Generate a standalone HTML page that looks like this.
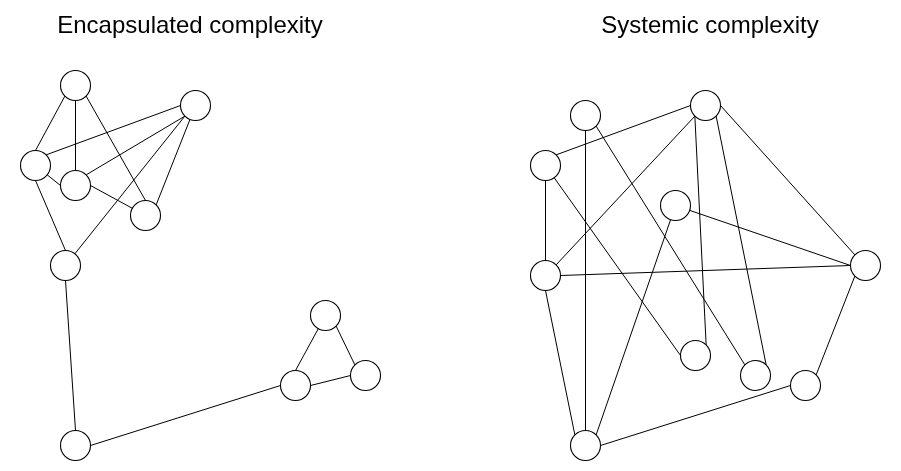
<!DOCTYPE html>
<html><head><meta charset="utf-8"><style>
html,body{margin:0;padding:0;background:#fff;width:901px;height:471px;overflow:hidden}
svg{position:absolute;left:0;top:0}
text{font-family:"Liberation Sans",sans-serif;font-size:24px;fill:#000}
.t{will-change:transform}
</style></head><body>
<svg width="901" height="471" viewBox="0 0 901 471">
<g stroke="#000" stroke-width="1.1" fill="#fff">
<path d="M 60.5 85.5 C 60.5 77.22 67.22 70.5 75.5 70.5 C 83.78 70.5 90.5 77.22 90.5 85.5 C 90.5 93.78 83.78 100.5 75.5 100.5 C 67.22 100.5 60.5 93.78 60.5 85.5 Z"/>
<path d="M 180.5 105.5 C 180.5 97.22 187.22 90.5 195.5 90.5 C 203.78 90.5 210.5 97.22 210.5 105.5 C 210.5 113.78 203.78 120.5 195.5 120.5 C 187.22 120.5 180.5 113.78 180.5 105.5 Z"/>
<path d="M 20.5 165.5 C 20.5 157.22 27.22 150.5 35.5 150.5 C 43.78 150.5 50.5 157.22 50.5 165.5 C 50.5 173.78 43.78 180.5 35.5 180.5 C 27.22 180.5 20.5 173.78 20.5 165.5 Z"/>
<path d="M 60.5 185.5 C 60.5 177.22 67.22 170.5 75.5 170.5 C 83.78 170.5 90.5 177.22 90.5 185.5 C 90.5 193.78 83.78 200.5 75.5 200.5 C 67.22 200.5 60.5 193.78 60.5 185.5 Z"/>
<path d="M 130.5 215.5 C 130.5 207.22 137.22 200.5 145.5 200.5 C 153.78 200.5 160.5 207.22 160.5 215.5 C 160.5 223.78 153.78 230.5 145.5 230.5 C 137.22 230.5 130.5 223.78 130.5 215.5 Z"/>
<path d="M 50.5 265.5 C 50.5 257.22 57.22 250.5 65.5 250.5 C 73.78 250.5 80.5 257.22 80.5 265.5 C 80.5 273.78 73.78 280.5 65.5 280.5 C 57.22 280.5 50.5 273.78 50.5 265.5 Z"/>
<path d="M 60.5 445.5 C 60.5 437.22 67.22 430.5 75.5 430.5 C 83.78 430.5 90.5 437.22 90.5 445.5 C 90.5 453.78 83.78 460.5 75.5 460.5 C 67.22 460.5 60.5 453.78 60.5 445.5 Z"/>
<path d="M 280.5 385.5 C 280.5 377.22 287.22 370.5 295.5 370.5 C 303.78 370.5 310.5 377.22 310.5 385.5 C 310.5 393.78 303.78 400.5 295.5 400.5 C 287.22 400.5 280.5 393.78 280.5 385.5 Z"/>
<path d="M 310.5 315.5 C 310.5 307.22 317.22 300.5 325.5 300.5 C 333.78 300.5 340.5 307.22 340.5 315.5 C 340.5 323.78 333.78 330.5 325.5 330.5 C 317.22 330.5 310.5 323.78 310.5 315.5 Z"/>
<path d="M 350.5 375.5 C 350.5 367.22 357.22 360.5 365.5 360.5 C 373.78 360.5 380.5 367.22 380.5 375.5 C 380.5 383.78 373.78 390.5 365.5 390.5 C 357.22 390.5 350.5 383.78 350.5 375.5 Z"/>
<path d="M 570.5 115.5 C 570.5 107.22 577.22 100.5 585.5 100.5 C 593.78 100.5 600.5 107.22 600.5 115.5 C 600.5 123.78 593.78 130.5 585.5 130.5 C 577.22 130.5 570.5 123.78 570.5 115.5 Z"/>
<path d="M 690.5 105.5 C 690.5 97.22 697.22 90.5 705.5 90.5 C 713.78 90.5 720.5 97.22 720.5 105.5 C 720.5 113.78 713.78 120.5 705.5 120.5 C 697.22 120.5 690.5 113.78 690.5 105.5 Z"/>
<path d="M 530.5 165.5 C 530.5 157.22 537.22 150.5 545.5 150.5 C 553.78 150.5 560.5 157.22 560.5 165.5 C 560.5 173.78 553.78 180.5 545.5 180.5 C 537.22 180.5 530.5 173.78 530.5 165.5 Z"/>
<path d="M 660.5 205.5 C 660.5 197.22 667.22 190.5 675.5 190.5 C 683.78 190.5 690.5 197.22 690.5 205.5 C 690.5 213.78 683.78 220.5 675.5 220.5 C 667.22 220.5 660.5 213.78 660.5 205.5 Z"/>
<path d="M 530.5 275.5 C 530.5 267.22 537.22 260.5 545.5 260.5 C 553.78 260.5 560.5 267.22 560.5 275.5 C 560.5 283.78 553.78 290.5 545.5 290.5 C 537.22 290.5 530.5 283.78 530.5 275.5 Z"/>
<path d="M 850.5 265.5 C 850.5 257.22 857.22 250.5 865.5 250.5 C 873.78 250.5 880.5 257.22 880.5 265.5 C 880.5 273.78 873.78 280.5 865.5 280.5 C 857.22 280.5 850.5 273.78 850.5 265.5 Z"/>
<path d="M 680.5 355.5 C 680.5 347.22 687.22 340.5 695.5 340.5 C 703.78 340.5 710.5 347.22 710.5 355.5 C 710.5 363.78 703.78 370.5 695.5 370.5 C 687.22 370.5 680.5 363.78 680.5 355.5 Z"/>
<path d="M 740.5 375.5 C 740.5 367.22 747.22 360.5 755.5 360.5 C 763.78 360.5 770.5 367.22 770.5 375.5 C 770.5 383.78 763.78 390.5 755.5 390.5 C 747.22 390.5 740.5 383.78 740.5 375.5 Z"/>
<path d="M 790.5 385.5 C 790.5 377.22 797.22 370.5 805.5 370.5 C 813.78 370.5 820.5 377.22 820.5 385.5 C 820.5 393.78 813.78 400.5 805.5 400.5 C 797.22 400.5 790.5 393.78 790.5 385.5 Z"/>
<path d="M 570.5 445.5 C 570.5 437.22 577.22 430.5 585.5 430.5 C 593.78 430.5 600.5 437.22 600.5 445.5 C 600.5 453.78 593.78 460.5 585.5 460.5 C 577.22 460.5 570.5 453.78 570.5 445.5 Z"/>
</g>
<g stroke="#000" stroke-width="1" fill="none">
<path d="M 64.85 96.15 L 35.50 150.50"/>
<path d="M 75.50 100.50 L 75.50 170.50"/>
<path d="M 86.15 96.15 L 145.50 200.50"/>
<path d="M 46.15 154.85 L 180.50 105.50"/>
<path d="M 47.21 174.87 L 60.50 185.50"/>
<path d="M 86.15 174.85 L 184.85 116.15"/>
<path d="M 90.50 185.50 L 132.33 208.32"/>
<path d="M 189.98 119.45 L 156.15 204.85"/>
<path d="M 184.85 116.15 L 74.86 253.78"/>
<path d="M 35.50 180.50 L 65.50 250.50"/>
<path d="M 65.50 280.50 L 75.50 430.50"/>
<path d="M 90.50 445.50 L 280.50 385.50"/>
<path d="M 295.50 370.50 L 318.32 328.67"/>
<path d="M 336.15 326.15 L 354.85 364.85"/>
<path d="M 310.50 385.50 L 350.50 375.50"/>
<path d="M 556.15 154.85 L 690.50 105.50"/>
<path d="M 545.50 180.50 L 545.50 260.50"/>
<path d="M 585.50 130.50 L 585.50 430.50"/>
<path d="M 596.15 126.15 L 744.85 364.85"/>
<path d="M 554.19 177.73 L 680.50 355.50"/>
<path d="M 694.85 116.15 L 556.15 264.85"/>
<path d="M 694.85 116.15 L 706.15 344.85"/>
<path d="M 716.15 116.15 L 766.15 364.85"/>
<path d="M 720.50 105.50 L 854.85 254.85"/>
<path d="M 689.69 210.36 L 850.50 265.50"/>
<path d="M 670.60 219.68 L 596.15 434.85"/>
<path d="M 560.50 275.50 L 850.50 265.50"/>
<path d="M 545.50 290.50 L 574.85 434.85"/>
<path d="M 854.85 276.15 L 816.15 374.85"/>
<path d="M 600.50 445.50 L 790.50 385.50"/>
</g>
<g class="t"><text x="190" y="33" text-anchor="middle">Encapsulated complexity</text>
<text x="710" y="33" text-anchor="middle">Systemic complexity</text></g>
</svg>
</body></html>
